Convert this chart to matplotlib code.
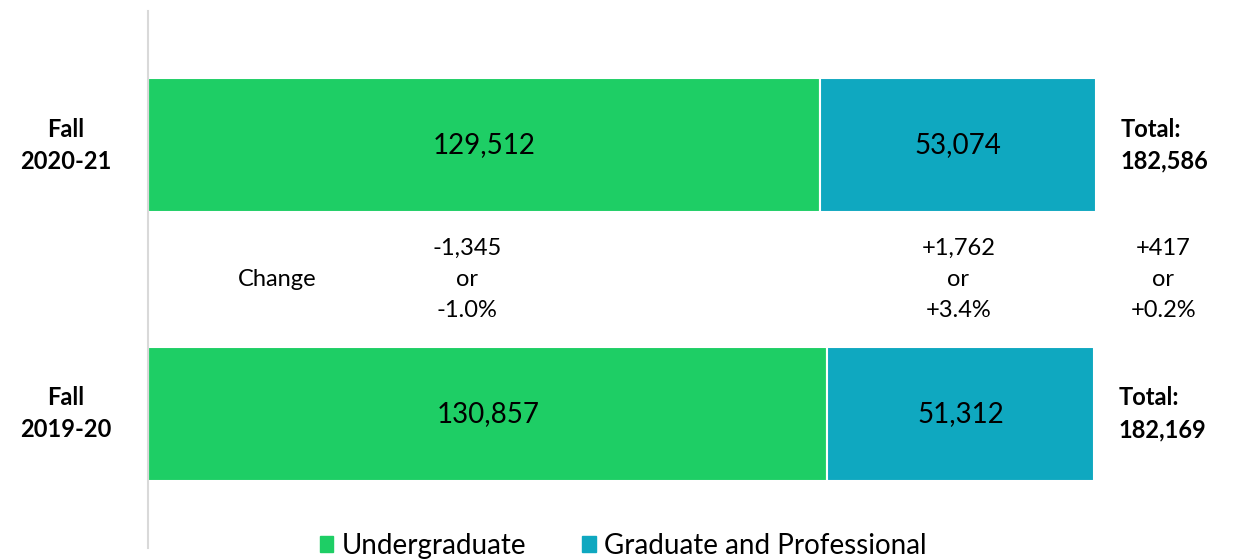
import matplotlib

matplotlib.use("Agg")
import matplotlib.pyplot as plt
from matplotlib.patches import Patch

# data
terms = ["Fall\n2019-20", "Fall\n2020-21"]
undergrad = [130857, 129512]
graduate = [51312, 53074]
totals = [182169, 182586]
change_ug = "-1,345\nor\n-1.0%"
change_grad = "+1,762\nor\n+3.4%"
change_total = "+417\nor\n+0.2%"

GREEN = "#1ECE65"
BLUE = "#0FA8C0"
FONT = ["Lato", "DejaVu Sans"]

plt.rcParams["font.family"] = FONT

fig = plt.figure(figsize=(12.34, 5.59), dpi=100)
ax = fig.add_axes([148 / 1234, 11 / 559, 1080 / 1234, 537 / 559])

y = range(len(terms))
ax.barh(y, undergrad, height=0.5, color=GREEN, edgecolor="white", linewidth=1.5)
ax.barh(y, graduate, left=undergrad, height=0.5, color=BLUE, edgecolor="white", linewidth=1.5)
ax.set_xlim(0, 208000)
ax.set_ylim(-0.5, 1.5)

for i in y:
    ax.text(undergrad[i] / 2, i, f"{undergrad[i]:,}", ha="center", va="center", fontsize=20)
    ax.text(undergrad[i] + graduate[i] / 2, i, f"{graduate[i]:,}", ha="center", va="center", fontsize=20)
    ax.text(totals[i] + 4800, i, f"Total:\n{totals[i]:,}", ha="left", va="center",
            fontsize=17, fontweight="bold", linespacing=1.45)
    ax.text(-15800, i, terms[i], ha="center", va="center", fontsize=17,
            fontweight="bold", linespacing=1.45, clip_on=False)

# change row between bars
ax.text(24800, 0.5, "Change", ha="center", va="center", fontsize=17)
ax.text(61500, 0.5, change_ug, ha="center", va="center", fontsize=17, linespacing=1.58)
ax.text(undergrad[1] + graduate[1] / 2, 0.5, change_grad, ha="center", va="center",
        fontsize=17, linespacing=1.58)
ax.text(195500, 0.5, change_total, ha="center", va="center", fontsize=17, linespacing=1.58)

for side in ["top", "right", "bottom"]:
    ax.spines[side].set_visible(False)
ax.spines["left"].set_color("#d9d9d9")
ax.spines["left"].set_linewidth(1.5)
ax.set_xticks([])
ax.set_yticks([])

handles = [Patch(color=GREEN, label="Undergraduate"),
           Patch(color=BLUE, label="Graduate and Professional")]
fig.legend(handles=handles, loc="center", bbox_to_anchor=(0.505, 0.024), ncol=2,
           frameon=False, fontsize=20, handlelength=0.5, handleheight=0.5,
           handletextpad=0.3, columnspacing=2.0, borderpad=0)

fig.savefig("out.png", dpi=100)
